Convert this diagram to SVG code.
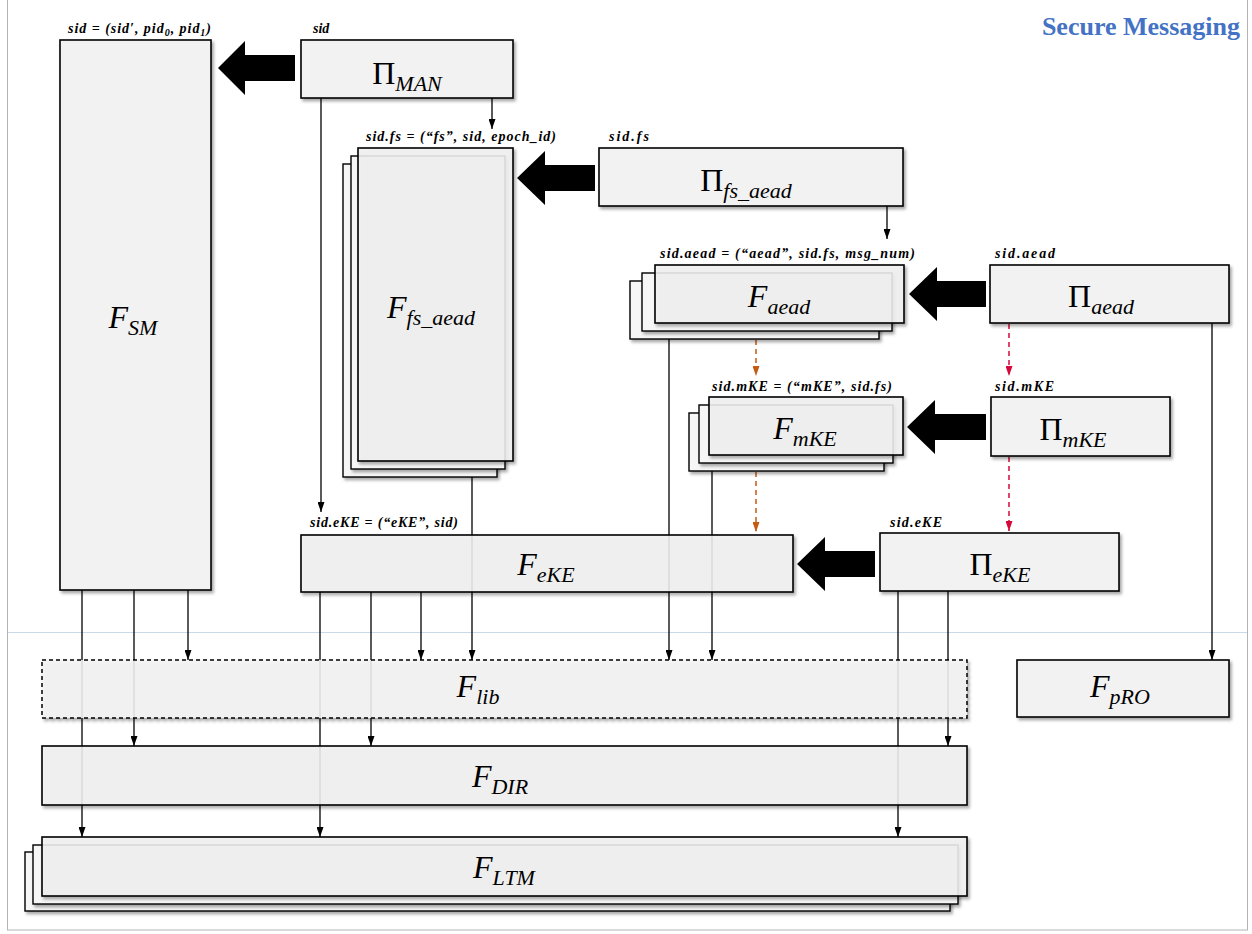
<svg xmlns="http://www.w3.org/2000/svg" width="1252" height="934" viewBox="0 0 1252 934">
<style>
.box{fill:#f2f2f2;stroke:#000;stroke-width:1.6;filter:url(#sh)}
.tbox{fill:#f2f2f2;fill-opacity:0.86;stroke:#000;stroke-width:1.6;filter:url(#sh)}
.back{fill:#f6f6f6;stroke:#000;stroke-width:1.4;filter:url(#sh)}
.dash{fill:#f4f4f4;fill-opacity:0.86;stroke:#000;stroke-width:1.5;stroke-dasharray:4 3;filter:url(#sh)}
.ln{fill:none;stroke:#000;stroke-width:1.3}
.lna{fill:none;stroke:#000;stroke-width:1.3;marker-end:url(#ah)}
.org{fill:none;stroke:#c55a11;stroke-width:1.5;stroke-dasharray:5 4;marker-end:url(#aho)}
.red{fill:none;stroke:#d4083a;stroke-width:1.5;stroke-dasharray:5 4;marker-end:url(#ahr)}
.big{fill:#000}
.m{font-family:"Liberation Serif",serif;font-style:italic;font-size:32px;fill:#000}
.p{font-style:normal}
.s{font-size:22px}
.lab{font-family:"Liberation Serif",serif;font-style:italic;font-weight:bold;font-size:14px;fill:#000}
.ttl{font-family:"Liberation Serif",serif;font-weight:bold;font-size:26px;fill:#4472c4}
</style>
<defs>
<filter id="sh" x="-5%" y="-5%" width="115%" height="120%">
<feDropShadow dx="2" dy="2.5" stdDeviation="1.8" flood-color="#000" flood-opacity="0.35"/>
</filter>
<marker id="ah" viewBox="0 0 10 7" refX="10" refY="3.5" markerWidth="10" markerHeight="7" markerUnits="userSpaceOnUse" orient="auto"><path d="M0,0 L10,3.5 L0,7 z" fill="#000"/></marker>
<marker id="aho" viewBox="0 0 10 7" refX="10" refY="3.5" markerWidth="10" markerHeight="7" markerUnits="userSpaceOnUse" orient="auto"><path d="M0,0 L10,3.5 L0,7 z" fill="#c55a11"/></marker>
<marker id="ahr" viewBox="0 0 10 7" refX="10" refY="3.5" markerWidth="10" markerHeight="7" markerUnits="userSpaceOnUse" orient="auto"><path d="M0,0 L10,3.5 L0,7 z" fill="#d4083a"/></marker>
</defs>
<rect x="0" y="0" width="1252" height="934" fill="#fff"/>
<rect x="7.5" y="-2" width="1240" height="932" fill="none" stroke="#b4b4b4" stroke-width="1"/>
<line x1="8" y1="632.5" x2="1247" y2="632.5" stroke="#c9d9ea" stroke-width="1.2"/>
<text class="ttl" x="1240" y="35" text-anchor="end">Secure Messaging</text>

<g id="connectors">
<polygon class="big" points="218,68 245,41 245,55 295,55 295,81 245,81 245,95"/>
<polygon class="big" points="517,178 545,151 545,165 595,165 595,191 545,191 545,205"/>
<polygon class="big" points="909,294 937,267 937,281 986,281 986,307 937,307 937,321"/>
<polygon class="big" points="907,427 935,400 935,414 986,414 986,440 935,440 935,454"/>
<polygon class="big" points="797,564 825,537 825,551 875,551 875,577 825,577 825,591"/>
<path class="lna" d="M492,98 V129"/>
<path class="lna" d="M321,98 V512"/>
<path class="lna" d="M887,206 V239"/>
<path class="org" d="M756,340 V376"/>
<path class="org" d="M756,472 V532"/>
<path class="red" d="M1009,324 V376"/>
<path class="red" d="M1009,457 V531"/>
<path class="lna" d="M1212,323 V660"/>
<path class="lna" d="M82,590 V837"/>
<path class="lna" d="M134,590 V746"/>
<path class="lna" d="M188,590 V660"/>
<path class="lna" d="M320,592 V837"/>
<path class="lna" d="M371,592 V746"/>
<path class="lna" d="M421,592 V660"/>
<path class="lna" d="M472,477 V660"/>
<path class="lna" d="M669,339 V660"/>
<path class="lna" d="M712,471 V660"/>
<path class="lna" d="M898,591 V837"/>
<path class="lna" d="M948,591 V746"/>
</g>

<g id="F_SM">
<rect class="box" x="60" y="40" width="151" height="550"/>
<text class="lab" x="68" y="33" textLength="143" lengthAdjust="spacing">sid = (sid′, pid<tspan font-size="10" dy="3">0</tspan><tspan dy="-3">, pid</tspan><tspan font-size="10" dy="3">1</tspan><tspan dy="-3">)</tspan></text>
<text class="m" x="133" y="328" text-anchor="middle">F<tspan class="s" dy="7">SM</tspan></text>
</g>

<g id="Pi_MAN">
<rect class="box" x="301" y="40" width="212" height="58"/>
<text class="lab" x="313" y="33">sid</text>
<text class="m" x="407" y="84" text-anchor="middle"><tspan class="p">Π</tspan><tspan class="s" dy="7">MAN</tspan></text>
</g>

<g id="F_fs_aead">
<rect class="back" x="343" y="164" width="154" height="313"/>
<rect class="back" x="351" y="156" width="154" height="313"/>
<rect class="tbox" x="358" y="148" width="155" height="313"/>
<text class="lab" x="366" y="141" textLength="190" lengthAdjust="spacing">sid.fs = (“fs”, sid, epoch_id)</text>
<text class="m" x="431" y="318" text-anchor="middle">F<tspan class="s" dy="7">fs_aead</tspan></text>
</g>

<g id="Pi_fs_aead">
<rect class="box" x="599" y="148" width="304" height="58"/>
<text class="lab" x="609" y="141" textLength="40" lengthAdjust="spacing">sid.fs</text>
<text class="m" x="746" y="191" text-anchor="middle"><tspan class="p">Π</tspan><tspan class="s" dy="7">fs_aead</tspan></text>
</g>

<g id="F_aead">
<rect class="back" x="630" y="281" width="249" height="58"/>
<rect class="back" x="642" y="273" width="250" height="58"/>
<rect class="tbox" x="655" y="265" width="249" height="58"/>
<text class="lab" x="660" y="258" textLength="255" lengthAdjust="spacing">sid.aead = (“aead”, sid.fs, msg_num)</text>
<text class="m" x="779" y="307" text-anchor="middle">F<tspan class="s" dy="7">aead</tspan></text>
</g>

<g id="Pi_aead">
<rect class="box" x="990" y="265" width="239" height="58"/>
<text class="lab" x="995" y="258" textLength="60" lengthAdjust="spacing">sid.aead</text>
<text class="m" x="1101" y="307" text-anchor="middle"><tspan class="p">Π</tspan><tspan class="s" dy="7">aead</tspan></text>
</g>

<g id="F_mKE">
<rect class="back" x="689" y="413" width="195" height="58"/>
<rect class="back" x="699" y="405" width="194" height="58"/>
<rect class="tbox" x="709" y="397" width="194" height="58"/>
<text class="lab" x="712" y="391" textLength="180" lengthAdjust="spacing">sid.mKE = (“mKE”, sid.fs)</text>
<text class="m" x="805" y="439" text-anchor="middle">F<tspan class="s" dy="7">mKE</tspan></text>
</g>

<g id="Pi_mKE">
<rect class="box" x="991" y="397" width="179" height="59"/>
<text class="lab" x="995" y="391" textLength="59" lengthAdjust="spacing">sid.mKE</text>
<text class="m" x="1073" y="440" text-anchor="middle"><tspan class="p">Π</tspan><tspan class="s" dy="7">mKE</tspan></text>
</g>

<g id="F_eKE">
<rect class="tbox" x="301" y="535" width="492" height="57"/>
<text class="lab" x="310" y="527" textLength="148" lengthAdjust="spacing">sid.eKE = (“eKE”, sid)</text>
<text class="m" x="546" y="575" text-anchor="middle">F<tspan class="s" dy="7">eKE</tspan></text>
</g>

<g id="Pi_eKE">
<rect class="box" x="880" y="533" width="239" height="58"/>
<text class="lab" x="890" y="527" textLength="52" lengthAdjust="spacing">sid.eKE</text>
<text class="m" x="1000" y="575" text-anchor="middle"><tspan class="p">Π</tspan><tspan class="s" dy="7">eKE</tspan></text>
</g>

<g id="F_lib">
<rect class="dash" x="42" y="660" width="925" height="58"/>
<text class="m" x="478" y="697" text-anchor="middle">F<tspan class="s" dy="7">lib</tspan></text>
</g>

<g id="F_pRO">
<rect class="box" x="1017" y="660" width="212" height="57"/>
<text class="m" x="1120" y="697" text-anchor="middle">F<tspan class="s" dy="7">pRO</tspan></text>
</g>

<g id="F_DIR">
<rect class="tbox" x="42" y="746" width="925" height="59"/>
<text class="m" x="500" y="787" text-anchor="middle">F<tspan class="s" dy="7">DIR</tspan></text>
</g>

<g id="F_LTM">
<rect class="back" x="25" y="852" width="925" height="59"/>
<rect class="back" x="33" y="845" width="925" height="59"/>
<rect class="tbox" x="42" y="837" width="925" height="59"/>
<text class="m" x="504" y="878" text-anchor="middle">F<tspan class="s" dy="7">LTM</tspan></text>
</g>
</svg>
